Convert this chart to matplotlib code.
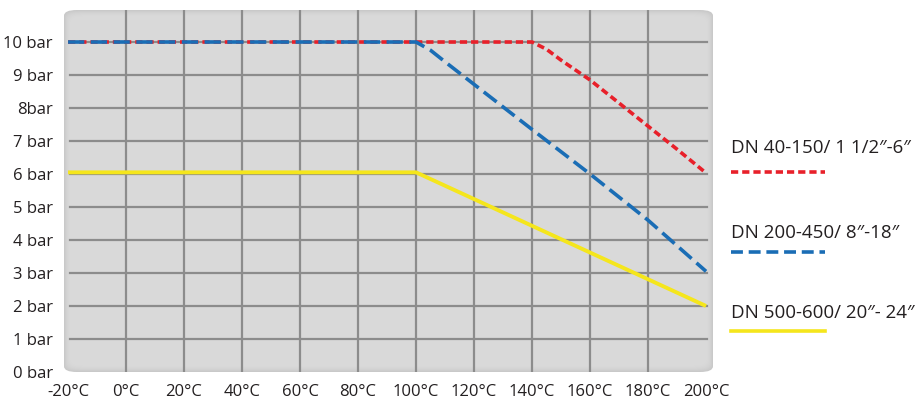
import matplotlib
matplotlib.use("Agg")
import matplotlib.pyplot as plt
from matplotlib.patches import FancyBboxPatch
from matplotlib.lines import Line2D

plt.rcParams['font.family'] = ['Open Sans', 'DejaVu Sans']

# data
x_ticks = [-20, 0, 20, 40, 60, 80, 100, 120, 140, 160, 180, 200]
x_labels = ["-20°C", "0°C", "20°C", "40°C", "60°C", "80°C", "100°C", "120°C", "140°C", "160°C", "180°C", "200°C"]
y_ticks = [0, 1, 2, 3, 4, 5, 6, 7, 8, 9, 10]
y_labels = ["0 bar", "1 bar", "2 bar", "3 bar", "4 bar", "5 bar", "6 bar", "7 bar", "8bar", "9 bar", "10 bar"]

red_t = [-20, 140, 145, 150, 160, 170, 180, 190, 200]
red_p = [10, 10, 9.78, 9.45, 8.85, 8.15, 7.45, 6.75, 6.03]
blue_t = [-20, 100, 105, 110, 140, 160, 180, 200]
blue_p = [10, 10, 9.75, 9.4, 7.35, 6.0, 4.6, 3.05]
yellow_t = [-20, 100, 200]
yellow_p = [6.05, 6.05, 2.0]

names = ["DN 40-150/ 1 1/2″-6″", "DN 200-450/ 8″-18″", "DN 500-600/ 20″- 24″"]

W, H = 918, 403
fig = plt.figure(figsize=(W / 100, H / 100), dpi=100)
fig.patch.set_facecolor('white')

L, R, T, B = 64, 713, 10, 372
ax = fig.add_axes([L / W, 1 - B / H, (R - L) / W, (B - T) / H])
ax.set_xlim(-21.4, 202.4)
ax.set_ylim(0, 10.97)
ax.patch.set_visible(False)
for s in ax.spines.values():
    s.set_visible(False)

# background box with soft shaded rounded edge
shades = ['#c9c9c9', '#cdcdcd', '#d1d1d1', '#d4d4d4', '#d6d6d6', '#d8d8d8', '#d9d9d9']
for i, c in enumerate(shades):
    inset = i * 1.0
    bg = FancyBboxPatch(((L + inset) / W, 1 - (B - inset) / H),
                        (R - L - 2 * inset) / W, (B - T - 2 * inset) / H,
                        boxstyle="round,pad=0,rounding_size=%f" % (0.014),
                        transform=fig.transFigure, facecolor=c,
                        edgecolor='none', zorder=-5 + i * 0.01)
    fig.patches.append(bg)

for xv in x_ticks[1:-1]:
    ax.axvline(xv, color='#8c8c8c', lw=1.6, zorder=1)
for yv in y_ticks[1:]:
    ax.axhline(yv, color='#8c8c8c', lw=1.6, zorder=1, xmin=0.01, xmax=0.99)

ax.plot(yellow_t, yellow_p, color='#f5e61c', lw=2.8, zorder=3, solid_capstyle='butt')
ax.plot(red_t, red_p, color='#e8202a', lw=2.6, zorder=4, dashes=(2.0, 1.1))
ax.plot(blue_t, blue_p, color='#1a6db5', lw=2.6, zorder=5, dashes=(4.5, 1.8))

ax.set_xticks(x_ticks)
ax.set_xticklabels(x_labels)
ax.set_yticks(y_ticks)
ax.set_yticklabels(y_labels)
ax.tick_params(length=0, labelsize=12, colors='#231f20', pad=9)
ax.tick_params(axis='y', pad=8)

# legend
tc = '#231f20'
items = [(148, 172, '#e8202a', (2.0, 1.1)), (233, 252, '#1a6db5', (3.3, 1.6)), (313, 331, '#f5e61c', None)]
for (ty, ly, col, d), name in zip(items, names):
    fig.text(731 / W, 1 - ty / H, name, fontsize=13.5, color=tc, va='center', ha='left')
    kw = dict(color=col, lw=2.6, transform=fig.transFigure)
    if d:
        kw['dashes'] = d
    ln = Line2D([731 / W, 825 / W], [1 - ly / H, 1 - ly / H], **kw)
    fig.lines.append(ln)

fig.savefig('out.png', dpi=100, facecolor='white')
